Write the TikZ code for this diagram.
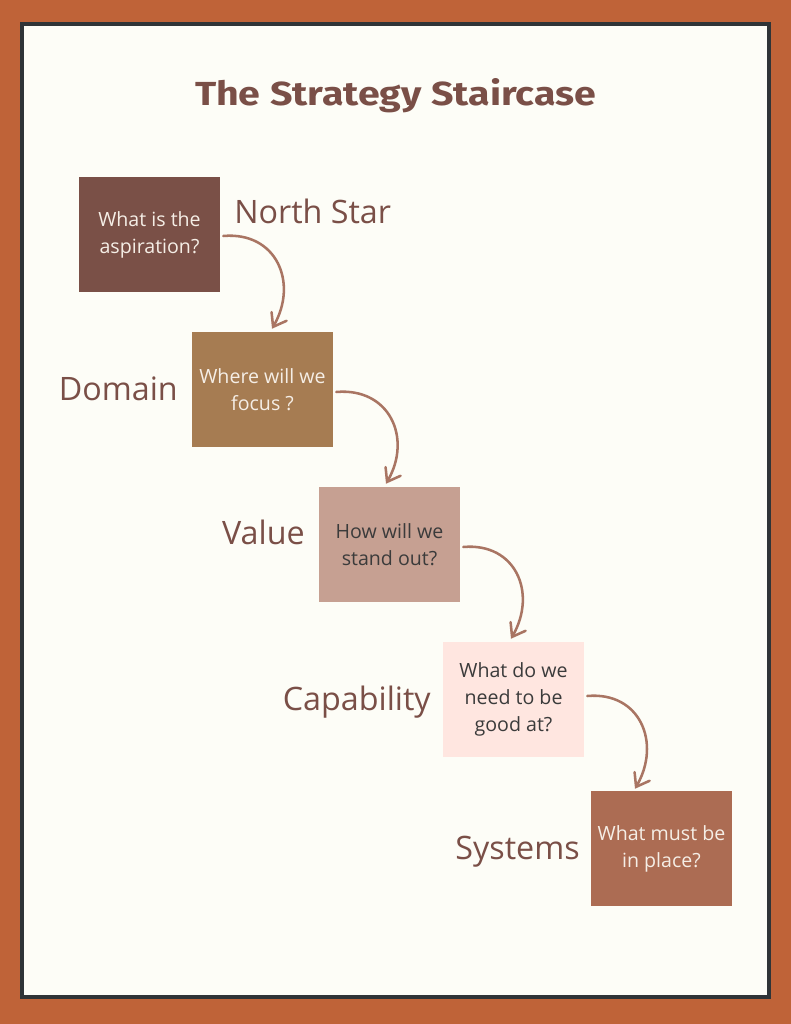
\documentclass[tikz,border=0pt]{standalone}
\usepackage{fontspec}
\setmainfont{Open Sans}
\newfontfamily\titlefont{Fira Sans}
\usepackage{tikz}
\usetikzlibrary{arrows.meta}
\definecolor{frameorange}{HTML}{BF6338}
\definecolor{framedark}{HTML}{2F3437}
\definecolor{paper}{HTML}{FDFDF7}
\definecolor{inkbrown}{HTML}{7A4F47}
\definecolor{arrowbrown}{HTML}{A97563}
\definecolor{stepA}{HTML}{7A5047}
\definecolor{stepB}{HTML}{A67C52}
\definecolor{stepC}{HTML}{C6A092}
\definecolor{stepD}{HTML}{FFE6E0}
\definecolor{stepE}{HTML}{AC6C53}
\definecolor{lighttext}{HTML}{F5EEE6}
\definecolor{darktext}{HTML}{3B3B3B}

\tikzset{
  stepbox/.style={minimum width=105.75pt,minimum height=86.25pt,inner sep=0pt,
    align=center,font=\fontsize{14.7pt}{20.25pt}\selectfont},
  stairlabel/.style={inner sep=0pt,text=inkbrown,font=\fontsize{24.2pt}{29pt}\selectfont},
  flow/.style={arrowbrown,line width=1.9pt,line cap=round,
    -{Straight Barb[length=9pt,width=13pt,line cap=round]}}
}

\begin{document}
\begin{tikzpicture}[x=0.75pt,y=0.75pt]
	% frame
	\fill[frameorange] (0,0) rectangle (791,1024);
	\draw[framedark,line width=3pt,fill=paper] (22,1000) rectangle (769,27);
	\node[anchor=base,inner sep=0pt,text=inkbrown,xscale=1.18,font=\titlefont\bfseries\fontsize{25pt}{30pt}\selectfont] (title) at (395.5,918) {The Strategy Staircase};
	% steps
	\node[stepbox,fill=stepA,text=lighttext] (b1) at (149.5,789.5) {What is the\\aspiration?};
	\node[stepbox,fill=stepB,text=lighttext] (b2) at (262.5,634.5) {Where will we\\focus ?};
	\node[stepbox,fill=stepC,text=darktext] (b3) at (389.5,479.5) {How will we\\stand out?};
	\node[stepbox,fill=stepD,text=darktext] (b4) at (513.5,324.5) {What do we\\need to be\\good at?};
	\node[stepbox,fill=stepE,text=lighttext] (b5) at (661.5,175) {What must be\\in place?};
	% labels
	\node[stairlabel,anchor=base west] (north) at (234,800) {North Star};
	\node[stairlabel,anchor=base east] (domain) at (178,623) {Domain};
	\node[stairlabel,anchor=base east] (value) at (305,479) {Value};
	\node[stairlabel,anchor=base east] (capab) at (431,313) {Capability};
	\node[stairlabel,anchor=base east] (systems) at (580,164) {Systems};
	% arrows
	\draw[flow] ([shift={(3,-1.5)}]b1.east) to[out=5,in=60,looseness=1.3] ([shift={(9.5,3)}]b2.north);
	\draw[flow] ([shift={(3,-2.5)}]b2.east) to[out=5,in=60,looseness=1.3] ([shift={(-3.5,3)}]b3.north);
	\draw[flow] ([shift={(3,-2.5)}]b3.east) to[out=5,in=60,looseness=1.3] ([shift={(-2.5,3)}]b4.north);
	\draw[flow] ([shift={(3,3.5)}]b4.east) to[out=5,in=60,looseness=1.3] ([shift={(-26.5,2.5)}]b5.north);
\end{tikzpicture}
\end{document}
